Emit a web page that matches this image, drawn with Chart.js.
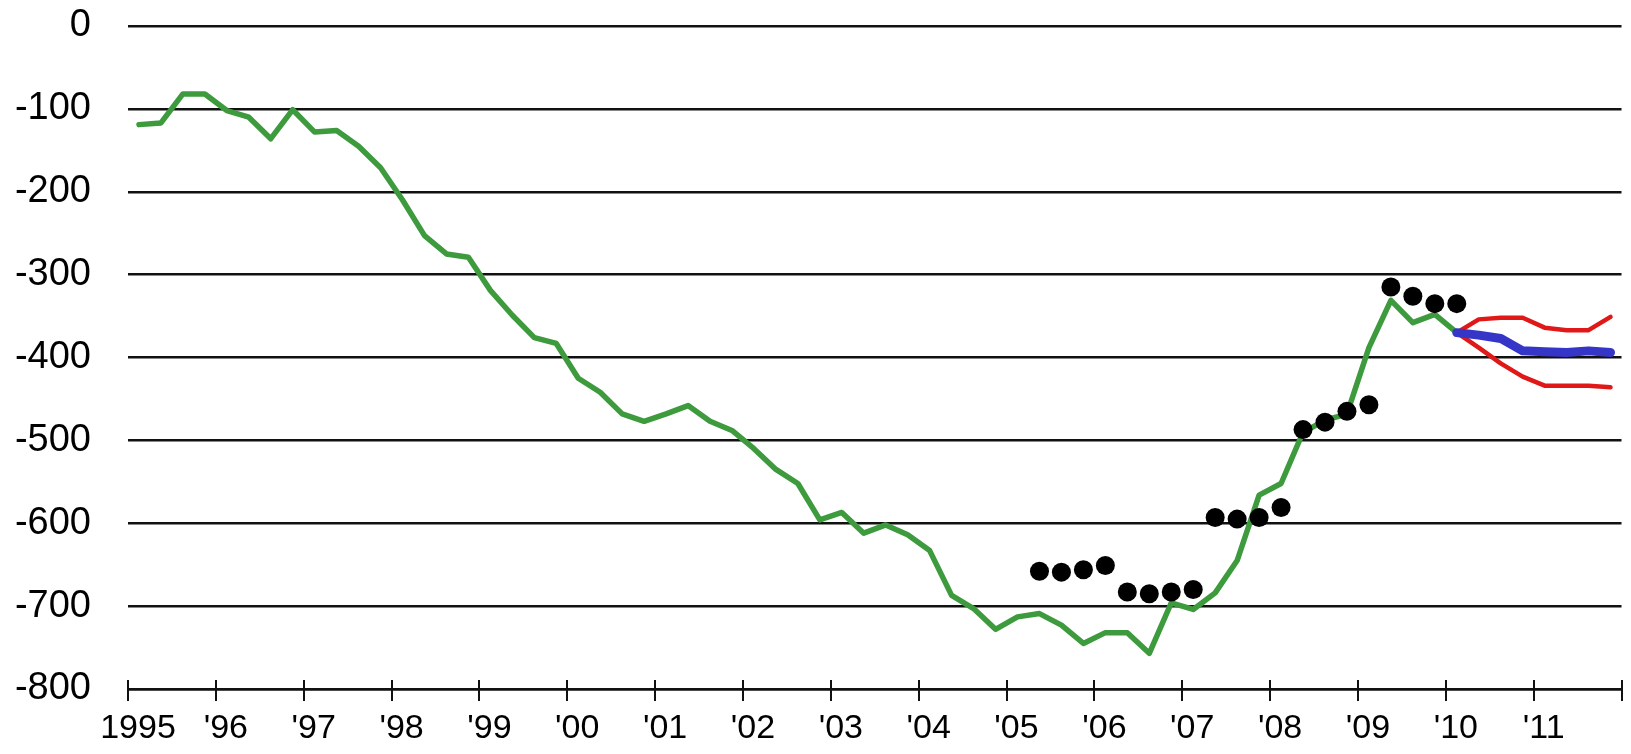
<!DOCTYPE html>
<html>
<head>
<meta charset="utf-8">
<script src="https://cdn.jsdelivr.net/npm/chart.js@4.4.0/dist/chart.umd.min.js"></script>
<style>
  html, body { margin: 0; padding: 0; background: #fff; }
  #wrap { width: 1631px; height: 754px; position: relative; }
</style>
</head>
<body>
<div id="wrap"><canvas id="chart"></canvas></div>
<script>
// axis
const firstYear = 1995;
const lastYear = 2012;
const yearLabels = ['1995', "'96", "'97", "'98", "'99", "'00", "'01", "'02", "'03",
    "'04", "'05", "'06", "'07", "'08", "'09", "'10", "'11", ''];
const yMin = -800;
const yMax = 0;

// quarterly history (green), starts 1995Q1
const historyStart = '1995Q1';
const history = [
    -119, -117, -82, -82,
    -102, -110, -136, -101,
    -128, -126, -145, -171,
    -210, -253, -275, -279,
    -319, -349, -376, -383,
    -425, -442, -468, -477,
    -468, -458, -477, -488,
    -510, -535, -552, -596,
    -587, -612, -602, -614,
    -633, -687, -703, -728,
    -713, -709, -723, -745,
    -732, -732, -757, -696,
    -704, -684, -645, -566,
    -552, -490, -476, -468,
    -388, -331, -358, -348,
    -370
];

// black dots, start 2005Q2
const dotsStart = '2005Q2';
const dots = [
    -658, -659, -656, -651,
    -683, -685, -683, -680,
    -593, -595, -593, -581,
    -487, -478, -465, -457,
    -315, -326, -335, -335
];

// forecast + band, start 2010Q1
const forecastStart = '2010Q1';
const forecast = [-370, -373, -377, -392, -393, -394, -392, -394];
const upperBand = [-370, -354, -352, -352, -364, -367, -367, -351];
const lowerBand = [-370, -388, -407, -423, -434, -434, -434, -436];

function quarterPos(start, i) {
    const year = parseInt(start.slice(0, 4), 10);
    const q = parseInt(start.slice(5), 10) - 1 + i;
    return year + q / 4 + 0.125;
}

function toPoints(start, values) {
    return values.map((v, i) => ({ x: quarterPos(start, i), y: v }));
}

const crossTicks = {
    id: 'crossTicks',
    afterDraw(chart) {
        const xScale = chart.scales.x;
        const ctx = chart.ctx;
        const axisY = chart.chartArea.bottom;
        ctx.save();
        ctx.strokeStyle = '#111';
        ctx.lineWidth = 2;
        xScale.ticks.forEach(t => {
            const px = Math.round(xScale.getPixelForValue(t.value));
            ctx.beginPath();
            ctx.moveTo(px, axisY - 9);
            ctx.lineTo(px, axisY + 12);
            ctx.stroke();
        });
        ctx.restore();
    }
};

const lineStyle = { showLine: true, pointRadius: 0, fill: false, borderJoinStyle: 'round', borderCapStyle: 'round', tension: 0 };

new Chart(document.getElementById('chart'), {
    type: 'scatter',
    data: {
        datasets: [
            {
                label: 'Survey',
                data: toPoints(dotsStart, dots),
                showLine: false,
                pointRadius: 9.5,
                pointBackgroundColor: '#000',
                pointBorderWidth: 0
            },
            Object.assign({ label: 'Forecast', data: toPoints(forecastStart, forecast),
                borderColor: '#3535c8', borderWidth: 9 }, lineStyle),
            Object.assign({ label: 'Upper', data: toPoints(forecastStart, upperBand),
                borderColor: '#e01818', borderWidth: 4.5 }, lineStyle),
            Object.assign({ label: 'Lower', data: toPoints(forecastStart, lowerBand),
                borderColor: '#e01818', borderWidth: 4.5 }, lineStyle),
            Object.assign({ label: 'History', data: toPoints(historyStart, history),
                borderColor: '#3d9a3d', borderWidth: 5.5 }, lineStyle)
        ]
    },
    options: {
        responsive: true,
        maintainAspectRatio: false,
        animation: false,
        layout: { padding: { top: 26, right: 8, left: 0, bottom: 0 } },
        plugins: {
            legend: { display: false },
            tooltip: { enabled: false }
        },
        scales: {
            x: {
                type: 'linear',
                min: firstYear,
                max: lastYear,
                afterFit: scale => {
                    scale.height = 65;
                    scale.paddingLeft = 0;
                    scale.paddingRight = 0;
                },
                grid: { display: false, drawTicks: false },
                border: { display: true, color: '#111', width: 2.5 },
                ticks: {
                    stepSize: 1,
                    autoSkip: false,
                    maxRotation: 0,
                    padding: 19,
                    labelOffset: 10,
                    color: '#000',
                    font: { family: '"Liberation Sans", Arial, sans-serif', size: 34 },
                    callback: v => yearLabels[Math.round(v) - firstYear] || ''
                }
            },
            y: {
                min: yMin,
                max: yMax,
                afterFit: scale => {
                    scale.width = 128;
                    scale.paddingTop = 0;
                    scale.paddingBottom = 0;
                },
                grid: { color: '#111', lineWidth: 2.5, drawTicks: false },
                border: { display: false },
                ticks: {
                    stepSize: 100,
                    padding: 37,
                    color: '#000',
                    font: { family: '"Liberation Sans", Arial, sans-serif', size: 38 },
                    callback: v => String(v)
                }
            }
        }
    },
    plugins: [crossTicks]
});
</script>
</body>
</html>
